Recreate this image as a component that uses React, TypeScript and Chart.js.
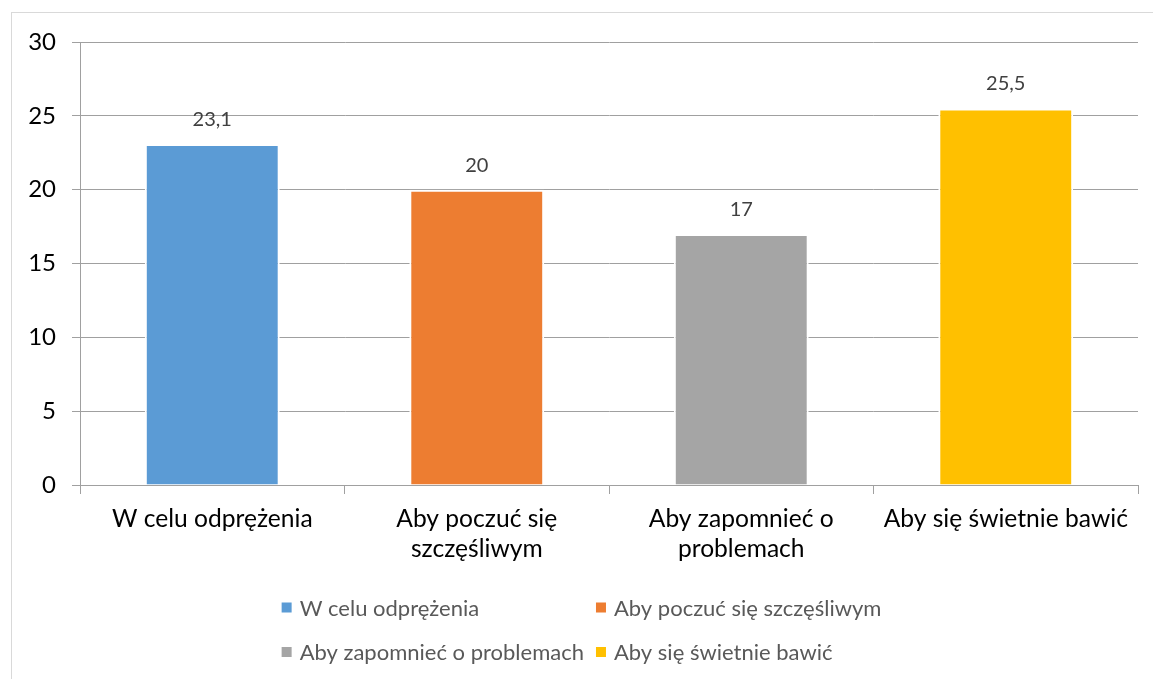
import React, { useEffect, useRef } from "react";
import { Chart, registerables } from "chart.js";

Chart.register(...registerables);

const categories = [
  "W celu odprężenia",
  "Aby poczuć się szczęśliwym",
  "Aby zapomnieć o problemach",
  "Aby się świetnie bawić",
];
const tickLabels = [
  ["W celu odprężenia"],
  ["Aby poczuć się", "szczęśliwym"],
  ["Aby zapomnieć o", "problemach"],
  ["Aby się świetnie bawić"],
];
const values = [23.1, 20, 17, 25.5];
const colors = ["#5B9BD5", "#ED7D31", "#A5A5A5", "#FFC000"];
const yMin = 0;
const yMax = 30;
const yStep = 5;

const FONT = "Lato";
const GRID = "#a0a0a0";

const fmt = (v: number) => String(v).replace(".", ",");

const dataLabelPlugin = {
  id: "dataLabels",
  afterDatasetsDraw(chart: any) {
    const ctx = chart.ctx;
    const meta = chart.getDatasetMeta(0);
    ctx.save();
    ctx.font = `20px ${FONT}`;
    ctx.fillStyle = "#404040";
    ctx.textAlign = "center";
    ctx.textBaseline = "alphabetic";
    meta.data.forEach((bar: any, i: number) => {
      ctx.fillText(fmt(values[i]), bar.x, bar.y - 18);
    });
    ctx.restore();
  },
};

const legendPlugin = {
  id: "gridLegend",
  afterDraw(chart: any) {
    const ctx = chart.ctx;
    ctx.save();
    ctx.font = `22px ${FONT}`;
    ctx.textBaseline = "middle";
    ctx.textAlign = "left";
    const box = 10;
    const gap = 8;
    const colGap = 12;
    const col1 = [categories[0], categories[2]];
    const col2 = [categories[1], categories[3]];
    const w1 = Math.max(...col1.map((t) => ctx.measureText(t).width));
    const w2 = Math.max(...col2.map((t) => ctx.measureText(t).width));
    const colWidth = box + gap + w1 + colGap;
    const total = colWidth + box + gap + w2;
    const centerX = 581.5;
    const left = centerX - total / 2;
    const rows = [607.5, 652];
    categories.forEach((label, i) => {
      const row = Math.floor(i / 2);
      const col = i % 2;
      const x = left + col * colWidth;
      const y = rows[row];
      ctx.fillStyle = colors[i];
      ctx.fillRect(x, y - box / 2, box, box);
      ctx.fillStyle = "#595959";
      ctx.fillText(label, x + box + gap, y + 1);
    });
    ctx.restore();
  },
};

export default function App() {
  const canvasRef = useRef<HTMLCanvasElement | null>(null);

  useEffect(() => {
    if (!canvasRef.current) return;
    const chart = new Chart(canvasRef.current, {
      type: "bar",
      data: {
        labels: tickLabels as any,
        datasets: [
          {
            label: "Wartość",
            data: values,
            backgroundColor: colors,
            borderColor: "#ffffff",
            borderWidth: 2,
            borderSkipped: "start",
            barPercentage: 0.51,
            categoryPercentage: 1,
          },
        ],
      },
      options: {
        responsive: false,
        animation: false,
        devicePixelRatio: 1,
        layout: { padding: { left: 0, right: 15, top: 42, bottom: 100 } },
        plugins: {
          legend: { display: false },
          tooltip: { enabled: false },
        },
        scales: {
          x: {
            offset: true,
            grid: {
              offset: true,
              drawOnChartArea: false,
              drawTicks: true,
              tickLength: 9,
              color: GRID,
            },
            border: { color: GRID, width: 1 },
            ticks: {
              color: "#000000",
              font: { family: FONT, size: 24.6, lineHeight: 1.22 },
              padding: 10,
              maxRotation: 0,
              autoSkip: false,
            },
            afterFit(scale: any) {
              scale.height = 94;
            },
          },
          y: {
            min: yMin,
            max: yMax,
            ticks: {
              stepSize: yStep,
              color: "#000000",
              font: { family: FONT, size: 24 },
              padding: 16,
              callback: (v: any) => fmt(Number(v)),
            },
            grid: { color: GRID, tickLength: 8 },
            border: { color: GRID, width: 1 },
            afterFit(scale: any) {
              scale.width = 80;
            },
          },
        },
      },
      plugins: [dataLabelPlugin, legendPlugin],
    });
    return () => chart.destroy();
  }, []);

  return (
    <div
      style={{
        position: "fixed",
        left: 0,
        top: 0,
        width: 1153,
        height: 679,
        overflow: "hidden",
        background: "#ffffff",
      }}
    >
      <canvas
        ref={canvasRef}
        width={1153}
        height={679}
        style={{ position: "absolute", left: 0, top: 0, width: 1153, height: 679 }}
      />
      <div
        style={{
          position: "absolute",
          left: 11,
          top: 12,
          width: 1170,
          height: 720,
          border: "1px solid #d9d9d9",
          pointerEvents: "none",
        }}
      />
    </div>
  );
}
